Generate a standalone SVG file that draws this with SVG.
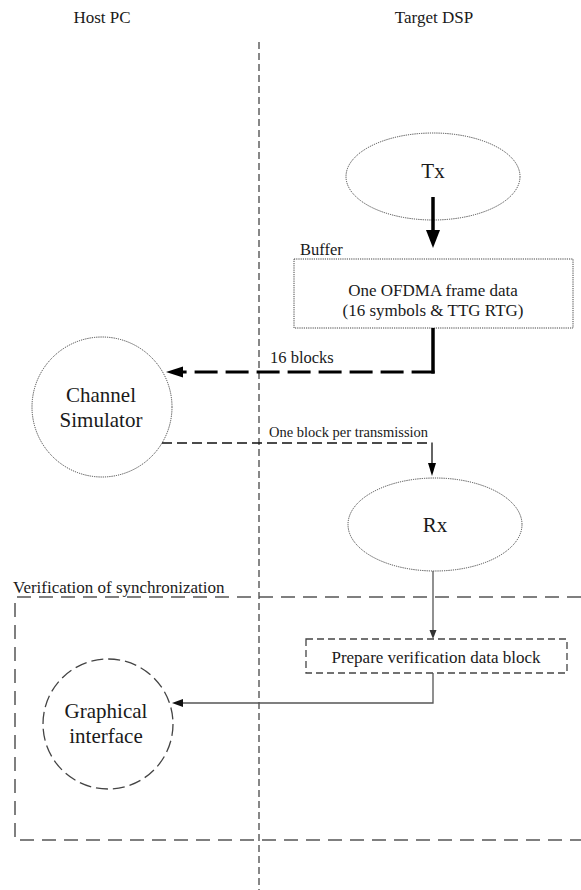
<svg xmlns="http://www.w3.org/2000/svg" width="581" height="890" viewBox="0 0 581 890" font-family="'Liberation Serif', 'Times New Roman', serif">
  <style>
    text { font-family: "Liberation Serif", "Times New Roman", serif; fill: #1a1a1a; }
    .hdr { font-family: "Liberation Serif", serif; font-size: 17px; text-anchor: middle; }
    .big { font-family: "Liberation Serif", serif; font-size: 21px; text-anchor: middle; }
    .mid { font-family: "Liberation Serif", serif; font-size: 17px; text-anchor: middle; }
    .start { text-anchor: start; }
    .lbl { font-family: "Liberation Serif", serif; font-size: 16.5px; }
    .small { font-family: "Liberation Serif", serif; font-size: 14.5px; }
    .dotted { fill: none; stroke: #444; stroke-width: 1; stroke-dasharray: 1.2 1; }
    .divider { fill: none; stroke: #555; stroke-width: 1.4; stroke-dasharray: 7 4; }
    .region { fill: none; stroke: #555; stroke-width: 1.5; stroke-dasharray: 14 8; }
    .shortdash { fill: none; stroke: #444; stroke-width: 1.3; stroke-dasharray: 7 4; }
    .gdash { fill: none; stroke: #444; stroke-width: 1.3; stroke-dasharray: 12 5; }
    .thick { fill: none; stroke: #000; stroke-width: 3.5; }
    .thickdash { fill: none; stroke: #000; stroke-width: 3.2; stroke-dasharray: 23 8; }
    .thin { fill: none; stroke: #111; stroke-width: 1.3; }
    .thindash { fill: none; stroke: #111; stroke-width: 1.3; stroke-dasharray: 10 5; }
    .gray { fill: none; stroke: #555; stroke-width: 1.3; }
  </style>

  <!-- column headers and host/target divider -->
  <g id="headers">
    <text class="hdr" x="102" y="23">Host PC</text>
    <text class="hdr" x="434" y="23">Target DSP</text>
    <line class="divider" x1="259" y1="42" x2="259" y2="890"/>
  </g>

  <!-- verification region -->
  <g id="verification">
    <path class="region" d="M581 597 H15 V840 H581"/>
    <text class="mid start" x="13" y="593">Verification of synchronization</text>
  </g>

  <g id="tx">
    <ellipse class="dotted" cx="433" cy="176.5" rx="87" ry="43.5"/>
    <text class="big" x="433" y="178">Tx</text>
  </g>

  <g id="buffer">
    <text class="lbl" x="300" y="255">Buffer</text>
    <rect class="dotted" x="294" y="259" width="279" height="69"/>
    <text class="mid" x="433" y="296">One OFDMA frame data</text>
    <text class="mid" x="433" y="316">(16 symbols &amp; TTG RTG)</text>
  </g>

  <g id="channel-simulator">
    <circle class="dotted" cx="102" cy="407" r="70"/>
    <text class="big" x="101" y="402">Channel</text>
    <text class="big" x="101" y="427">Simulator</text>
  </g>

  <g id="rx">
    <ellipse class="dotted" cx="435" cy="524.5" rx="87" ry="46.5"/>
    <text class="big" x="435" y="532">Rx</text>
  </g>

  <g id="prepare">
    <rect class="shortdash" x="306" y="639" width="261" height="34"/>
    <text class="mid" x="436" y="663">Prepare verification data block</text>
  </g>

  <g id="graphical-interface">
    <circle class="gdash" cx="108" cy="724" r="65"/>
    <text class="big" x="106" y="718">Graphical</text>
    <text class="big" x="106" y="743">interface</text>
  </g>

  <!-- connectors -->
  <g id="connectors">
    <!-- Tx to buffer -->
    <line class="thick" x1="433" y1="197" x2="433" y2="232"/>
    <polygon points="426,230 440,230 433,248" fill="#000"/>

    <!-- buffer to channel simulator -->
    <path class="thick" d="M433 328 V373.6"/>
    <path class="thickdash" d="M434.6 372 H183"/>
    <polygon points="183,366.5 183,377.5 166,372" fill="#000"/>
    <text class="lbl" x="270" y="363">16 blocks</text>

    <!-- channel simulator to Rx -->
    <path class="thindash" d="M162 443 H432"/>
    <path class="thin" d="M432 442.4 V464"/>
    <polygon points="428,463 436,463 432,476" fill="#000"/>
    <text class="small" x="269" y="437">One block per transmission</text>

    <!-- Rx to prepare -->
    <line class="gray" x1="433" y1="571" x2="433" y2="631"/>
    <polygon points="429.5,630 436.5,630 433,639" fill="#333"/>

    <!-- prepare to graphical interface -->
    <path class="gray" d="M433 673 V703 H181"/>
    <polygon points="183,699 183,707 172,703" fill="#111"/>
  </g>
</svg>
